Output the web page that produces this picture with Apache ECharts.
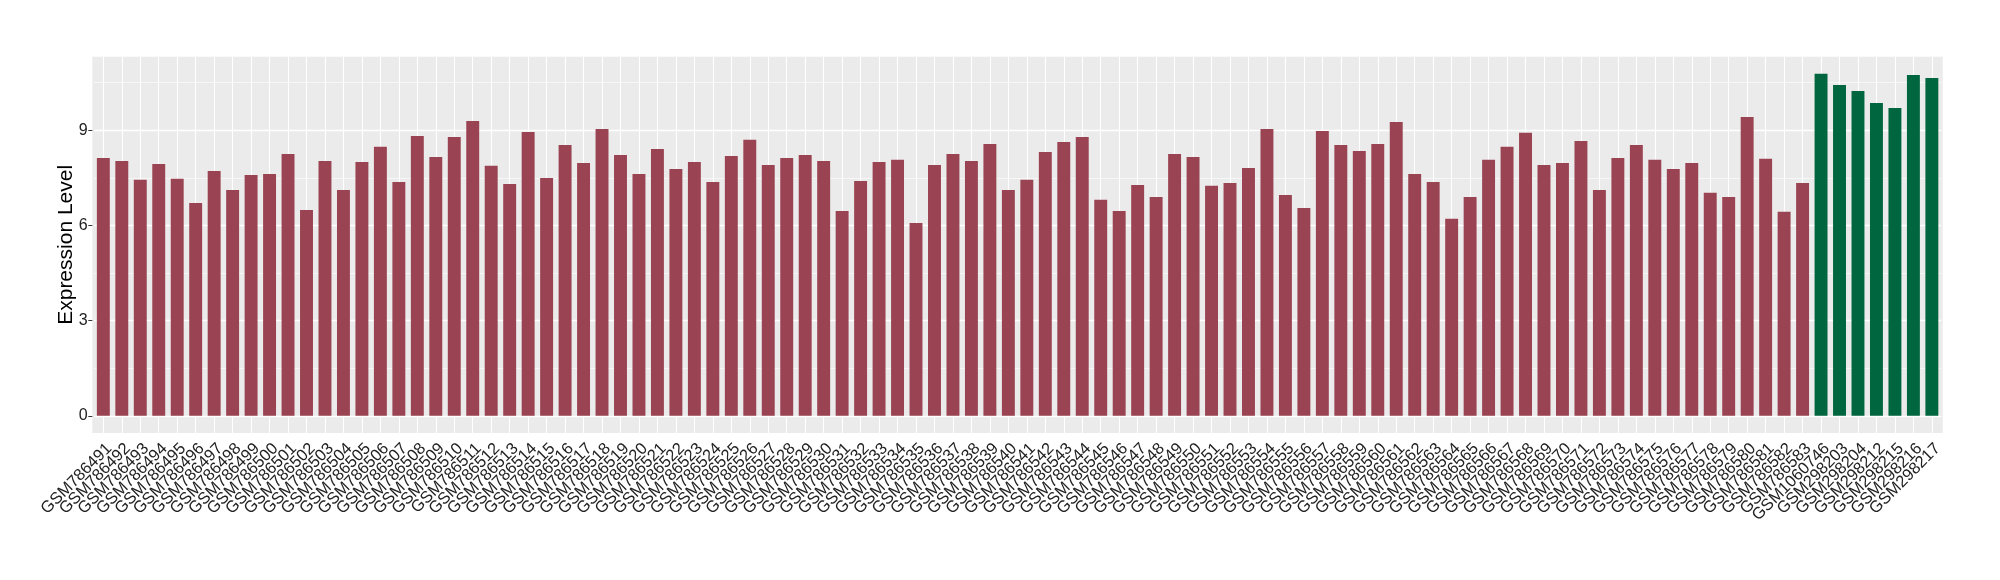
<!DOCTYPE html>
<html>
<head>
<meta charset="utf-8">
<script src="https://cdn.jsdelivr.net/npm/echarts@6/dist/echarts.min.js"></script>
<style>
html,body{margin:0;padding:0;background:#fff;}
#chart{width:2000px;height:580px;}
</style>
</head>
<body>
<div id="chart"></div>
<script>
const redSamples = [
"GSM786491","GSM786492","GSM786493","GSM786494","GSM786495","GSM786496","GSM786497","GSM786498","GSM786499","GSM786500",
"GSM786501","GSM786502","GSM786503","GSM786504","GSM786505","GSM786506","GSM786507","GSM786508","GSM786509","GSM786510",
"GSM786511","GSM786512","GSM786513","GSM786514","GSM786515","GSM786516","GSM786517","GSM786518","GSM786519","GSM786520",
"GSM786521","GSM786522","GSM786523","GSM786524","GSM786525","GSM786526","GSM786527","GSM786528","GSM786529","GSM786530",
"GSM786531","GSM786532","GSM786533","GSM786534","GSM786535","GSM786536","GSM786537","GSM786538","GSM786539","GSM786540",
"GSM786541","GSM786542","GSM786543","GSM786544","GSM786545","GSM786546","GSM786547","GSM786548","GSM786549","GSM786550",
"GSM786551","GSM786552","GSM786553","GSM786554","GSM786555","GSM786556","GSM786557","GSM786558","GSM786559","GSM786560",
"GSM786561","GSM786562","GSM786563","GSM786564","GSM786565","GSM786566","GSM786567","GSM786568","GSM786569","GSM786570",
"GSM786571","GSM786572","GSM786573","GSM786574","GSM786575","GSM786576","GSM786577","GSM786578","GSM786579","GSM786580",
"GSM786581","GSM786582","GSM786583"
];
const redValues = [
8.13,8.03,7.44,7.94,7.47,6.71,7.72,7.12,7.59,7.62,
8.25,6.49,8.03,7.12,8.00,8.48,7.37,8.82,8.16,8.79,
9.29,7.88,7.31,8.95,7.50,8.54,7.97,9.04,8.22,7.62,
8.41,7.78,8.00,7.37,8.19,8.70,7.91,8.13,8.22,8.03,
6.46,7.40,8.00,8.07,6.08,7.91,8.25,8.03,8.57,7.12,
7.44,8.32,8.63,8.79,6.81,6.46,7.28,6.90,8.25,8.16,
7.25,7.34,7.81,9.04,6.96,6.55,8.98,8.54,8.35,8.57,
9.26,7.62,7.37,6.21,6.90,8.07,8.48,8.92,7.91,7.97,
8.66,7.12,8.13,8.54,8.07,7.78,7.97,7.03,6.90,9.42,
8.10,6.43,7.34
];
const greenSamples = ["GSM1060746","GSM298203","GSM298204","GSM298212","GSM298215","GSM298216","GSM298217"];
const greenValues = [10.78,10.43,10.24,9.86,9.70,10.74,10.65];

const yTickValues = [0, 3, 6, 9];
const yMinorValues = [1.5, 4.5, 7.5, 10.5];
const yTitle = "Expression Level";

const RED = "#9A4352";
const GREEN = "#00663F";

const categories = redSamples.concat(greenSamples);
const barData = redValues.map(v => ({value: v, itemStyle: {color: RED}}))
  .concat(greenValues.map(v => ({value: v, itemStyle: {color: GREEN}})));

const chart = echarts.init(document.getElementById('chart'), null, {renderer: 'canvas'});
const FONT = "Liberation Sans";

chart.setOption({
  animation: false,
  backgroundColor: '#ffffff',
  textStyle: {fontFamily: FONT},
  graphic: [{
    type: 'rect', z: -10, silent: true,
    shape: {x: 92.3, y: 56.7, width: 1850.4, height: 376.3},
    style: {fill: '#EBEBEB'}
  }],
  grid: {left: 94.1, right: 58.9, top: 56.7, bottom: 147, containLabel: false},
  xAxis: {
    type: 'category',
    data: categories,
    boundaryGap: true,
    axisLine: {show: false},
    axisTick: {show: true, alignWithLabel: true, interval: 0, length: 4, lineStyle: {color: '#333', width: 1}},
    axisLabel: {
      interval: 0, rotate: 45, margin: 7, fontSize: 16.5, color: '#222', fontFamily: FONT,
      align: 'right', verticalAlign: 'top'
    },
    splitLine: {show: false}
  },
  yAxis: {
    type: 'value',
    min: -0.54, max: 11.32,
    offset: 1.8,
    name: yTitle,
    nameLocation: 'middle',
    nameRotate: 90,
    nameGap: 16,
    nameMoveOverlap: false,
    nameTextStyle: {fontSize: 21, color: '#000', fontFamily: FONT},
    axisLine: {show: false},
    axisTick: {show: true, length: 4, customValues: yTickValues, lineStyle: {color: '#333', width: 1}},
    axisLabel: {customValues: yTickValues, margin: 4.6, fontSize: 16, color: '#222', fontFamily: FONT},
    splitLine: {show: false}
  },
  series: [
    {
      type: 'line', data: [], silent: true, z: 1,
      markLine: {
        silent: true, symbol: 'none', z: 1, animation: false,
        label: {show: false},
        data: categories.map(c => ({xAxis: c, lineStyle: {color: '#fff', width: 1.1, type: 'solid'}}))
          .concat(yTickValues.map(v => ({yAxis: v, lineStyle: {color: '#fff', width: 1.3, type: 'solid'}})))
          .concat(yMinorValues.map(v => ({yAxis: v, lineStyle: {color: '#fff', width: 0.6, type: 'solid'}})))
      }
    },
    {
      type: 'bar', data: barData, barWidth: '70%', z: 3
    }
  ]
});
</script>
</body>
</html>
